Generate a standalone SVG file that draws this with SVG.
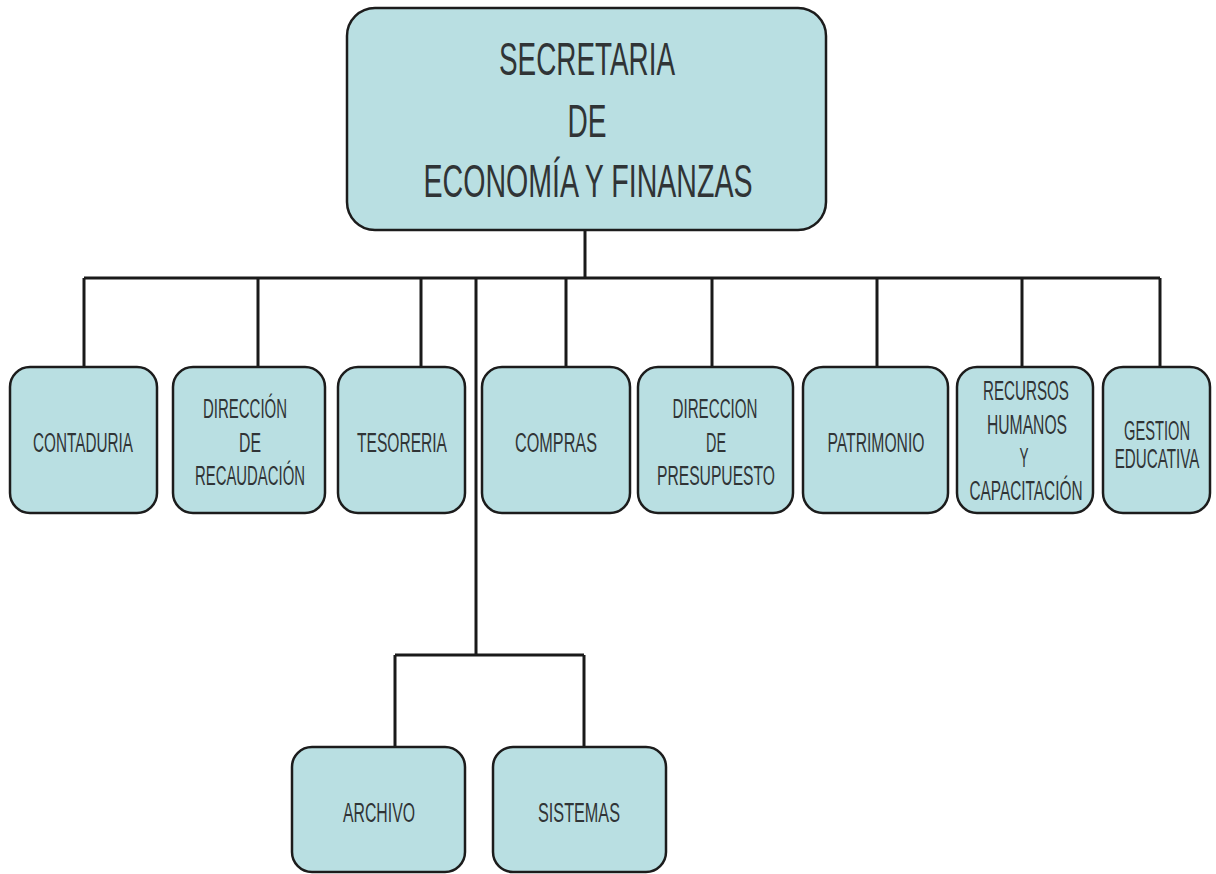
<svg xmlns="http://www.w3.org/2000/svg" width="1216" height="874" viewBox="0 0 1216 874">
<style>
.box{fill:#b9dfe2;stroke:#1c1c1c;stroke-width:2.5}
.t{font-family:"Liberation Sans",Arial,sans-serif;fill:#303436;text-anchor:middle;font-size:27px}
.big{font-size:46px}
.c{fill:none;stroke:#1a1a1a;stroke-width:3}
</style>
<rect width="1216" height="874" fill="#fff"/>
<g id="connectors">
<path class="c" d="M585 230V278M84 278H1160M84 278V367M258 278V367M421 278V367M566 278V367M712 278V367M877 278V367M1022 278V367M1160 278V367M476 278V655M395 655H584M395 655V747M584 655V747"/>
</g>
<g id="secretaria">
<rect class="box" x="347" y="8" width="479" height="222" rx="28"/>
<text class="t big" x="587" y="75" textLength="176" lengthAdjust="spacingAndGlyphs">SECRETARIA</text>
<text class="t big" x="587" y="137" textLength="39" lengthAdjust="spacingAndGlyphs">DE</text>
<text class="t big" x="588" y="197" textLength="329" lengthAdjust="spacingAndGlyphs">ECONOMÍA Y FINANZAS</text>
</g>
<g id="contaduria">
<rect class="box" x="10" y="367" width="147" height="146" rx="20"/>
<text class="t" x="83" y="452" textLength="100" lengthAdjust="spacingAndGlyphs">CONTADURIA</text>
</g>
<g id="recaudacion">
<rect class="box" x="173" y="367" width="152" height="146" rx="20"/>
<text class="t" x="245" y="418" textLength="84" lengthAdjust="spacingAndGlyphs">DIRECCIÓN</text>
<text class="t" x="250" y="452" textLength="22" lengthAdjust="spacingAndGlyphs">DE</text>
<text class="t" x="250" y="485" textLength="110" lengthAdjust="spacingAndGlyphs">RECAUDACIÓN</text>
</g>
<g id="tesoreria">
<rect class="box" x="338" y="367" width="127" height="146" rx="20"/>
<text class="t" x="402" y="452" textLength="90" lengthAdjust="spacingAndGlyphs">TESORERIA</text>
</g>
<g id="compras">
<rect class="box" x="482" y="367" width="148" height="146" rx="20"/>
<text class="t" x="556" y="452" textLength="82" lengthAdjust="spacingAndGlyphs">COMPRAS</text>
</g>
<g id="presupuesto">
<rect class="box" x="638" y="367" width="155" height="146" rx="20"/>
<text class="t" x="715" y="418" textLength="85" lengthAdjust="spacingAndGlyphs">DIRECCION</text>
<text class="t" x="716" y="452" textLength="20" lengthAdjust="spacingAndGlyphs">DE</text>
<text class="t" x="716" y="485" textLength="118" lengthAdjust="spacingAndGlyphs">PRESUPUESTO</text>
</g>
<g id="patrimonio">
<rect class="box" x="803" y="367" width="145" height="146" rx="20"/>
<text class="t" x="876" y="452" textLength="97" lengthAdjust="spacingAndGlyphs">PATRIMONIO</text>
</g>
<g id="recursos">
<rect class="box" x="957" y="367" width="136" height="146" rx="20"/>
<text class="t" x="1026" y="400" textLength="86" lengthAdjust="spacingAndGlyphs">RECURSOS</text>
<text class="t" x="1027" y="434" textLength="80" lengthAdjust="spacingAndGlyphs">HUMANOS</text>
<text class="t" x="1024" y="467" textLength="9" lengthAdjust="spacingAndGlyphs">Y</text>
<text class="t" x="1026" y="500" textLength="113" lengthAdjust="spacingAndGlyphs">CAPACITACIÓN</text>
</g>
<g id="gestion">
<rect class="box" x="1103" y="367" width="107" height="146" rx="20"/>
<text class="t" transform="translate(1157 440) scale(0.543 1)">GESTION</text>
<text class="t" transform="translate(1157 468) scale(0.562 1)">EDUCATIVA</text>
</g>
<g id="archivo">
<rect class="box" x="292" y="747" width="173" height="125" rx="20"/>
<text class="t" x="379" y="822" textLength="72" lengthAdjust="spacingAndGlyphs">ARCHIVO</text>
</g>
<g id="sistemas">
<rect class="box" x="493" y="747" width="173" height="125" rx="20"/>
<text class="t" x="579" y="822" textLength="82" lengthAdjust="spacingAndGlyphs">SISTEMAS</text>
</g>
</svg>
